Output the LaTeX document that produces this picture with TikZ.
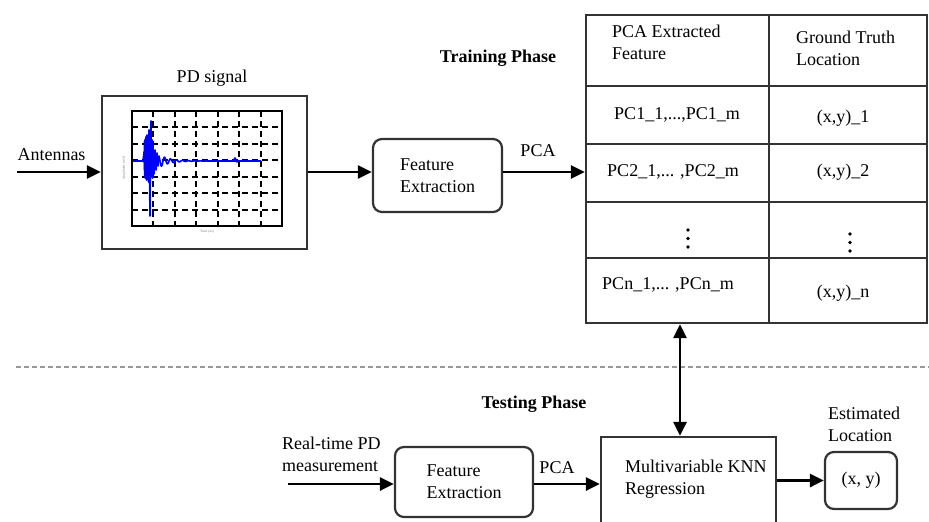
\documentclass[tikz,border=0pt]{standalone}
\usepackage{fontspec}
\setmainfont{Liberation Serif}
\newfontfamily\tms{Liberation Serif}
\usetikzlibrary{arrows.meta,calc}
\begin{document}
\begin{tikzpicture}[x=1pt,y=-1pt,
  txt/.style={inner sep=0pt, font=\tms\fontsize{18}{22}\selectfont, align=left},
  boldtxt/.style={inner sep=0pt, font=\tms\fontsize{18}{22}\selectfont\bfseries},
  rbox/.style={draw=black!80, line width=2.2pt, rounded corners=9pt, align=left, font=\tms\fontsize{18}{22}\selectfont},
  sbox/.style={draw=black!80, line width=2.2pt, inner sep=0pt},
  tline/.style={draw=black!80, line width=2.2pt},
  arr/.style={line width=2.8pt, -{Triangle[length=14pt,width=13pt]}},
  darr/.style={line width=2.8pt, {Triangle[length=14pt,width=13pt]}-{Triangle[length=14pt,width=13pt]}},
  gridln/.style={black, line width=2pt, dash pattern=on 6pt off 4pt},
  sig/.style={blue, line width=1.6pt, line join=round}
]
\clip (0,0) rectangle (929,522);
\fill[white] (0,0) rectangle (929,522);

% ---------- Training phase ----------
\node[txt] (ant) at (51.5,155) {Antennas};
\coordinate (a1) at (17,172);
\node[sbox, minimum width=205pt, minimum height=153pt] (pd) at (204.5,172.5) {};
\node[txt] (pdlab) at (212,78) {PD signal};

% plot inside PD box
\draw[black, line width=1.8pt] (132,111) rectangle (282,226);
\foreach \k in {1,...,6} {
  \draw[gridln] ({132+\k*150/7},111) -- ({132+\k*150/7},226);
  \draw[gridln] (132,{111+\k*115/7}) -- (282,{111+\k*115/7});
}
\fill[blue] (143.5,142) -- (146,136) -- (149,134) -- (152.5,140) -- (153,176) -- (149,180) -- (144,178) -- cycle;
\draw[sig] (133,161) -- (143,161) -- (144,152) -- (144.5,170) -- (145,140) -- (145.5,178)
  -- (146,137) -- (146.5,180) -- (147,135) -- (147.5,178) -- (148,136) -- (148.5,182)
  -- (149,130) -- (149.5,180) -- (150,216) -- (150.5,135) -- (151,121) -- (151.5,176)
  -- (152,140) -- (152.5,178) -- (153,145) -- (154,174) -- (155,150) -- (156,170)
  -- (157,153) -- (158,166) -- (159,156) -- (160,161);
\draw[sig] plot[domain=0:101, samples=300] ({160+\x}, {161 + 6*exp(-\x/10)*sin(60*\x)});
\draw[sig] (233,161) -- (235,158) -- (237,162) -- (239,161);
\node[inner sep=0pt, font=\fontsize{3.5}{4}\selectfont, text=black!50] (xl) at (207,232) {Time (ns)};
\node[inner sep=0pt, font=\fontsize{3.5}{4}\selectfont, text=black!50, rotate=90] (yl) at (124,168) {Amplitude (mV)};

\node[rbox, minimum width=129pt, minimum height=73pt] (feat1) at (437.5,175.5) {Feature\\Extraction};
\node[txt] (pca1) at (538,151) {PCA};

% table
\node[sbox, minimum width=341pt, minimum height=308pt] (tbl) at (756.5,169) {};
\coordinate (colx) at (769,0);
\draw[tline] (tbl.north -| colx) -- (tbl.south -| colx);
\foreach \y in {86,144,202,258} {
  \draw[tline] ($(tbl.west |- 0,\y)$) -- ($(tbl.east |- 0,\y)$);
}
\node[txt, anchor=west] (h1) at (612,42.5) {PCA Extracted\\Feature};
\node[txt, anchor=west] (h2) at (796,48.5) {Ground Truth\\Location};
\node[txt] (r1a) at (677,115) {PC1\_1,...,PC1\_m};
\node[txt] (r1b) at (843,118) {(x,y)\_1};
\node[txt] (r2a) at (673,172) {PC2\_1,... ,PC2\_m};
\node[txt] (r2b) at (843,172) {(x,y)\_2};
\foreach \y in {230,238.5,247} \fill (688,\y) circle (1.9pt);
\foreach \y in {234,242.5,251} \fill (850,\y) circle (1.9pt);
\node[txt] (r4a) at (668,285) {PCn\_1,... ,PCn\_m};
\node[txt] (r4b) at (843,293) {(x,y)\_n};

\node[boldtxt] (train) at (498,58) {Training Phase};

\draw[arr] (a1) -- (a1 -| pd.west);
\draw[arr] (pd.east |- a1) -- (feat1.west |- a1);
\draw[arr] (feat1.east |- a1) -- (tbl.west |- a1);

% separator
\draw[black!40, line width=2pt, dash pattern=on 5pt off 3pt] (16,367) -- (929,367);

% ---------- Testing phase ----------
\node[boldtxt] (test) at (534,404) {Testing Phase};
\node[txt, anchor=west] (rt) at (282,454.5) {Real-time PD\\measurement};
\coordinate (a2) at (288,484);
\node[rbox, minimum width=138pt, minimum height=70pt] (feat2) at (464,482) {Feature\\Extraction};
\node[txt] (pca2) at (557,468) {PCA};
\node[sbox, minimum width=175pt, minimum height=130pt] (knn) at (688.5,502) {};
\node[txt, anchor=west] (knntxt) at (625,479) {Multivariable KNN\\Regression};
\node[txt, anchor=west] (estl) at (828,424) {Estimated\\Location};
\node[rbox, minimum width=72pt, minimum height=57pt, align=center] (out) at (861,480.5) {(x, y)};

\draw[arr] (a2) -- (a2 -| feat2.west);
\draw[arr] (feat2.east |- a2) -- (knn.west |- a2);
\draw[arr] (knn.east |- out.west) -- (out.west);
\coordinate (dx) at (680,0);
\draw[darr] (tbl.south -| dx) -- (knn.north -| dx);
\end{tikzpicture}
\end{document}
